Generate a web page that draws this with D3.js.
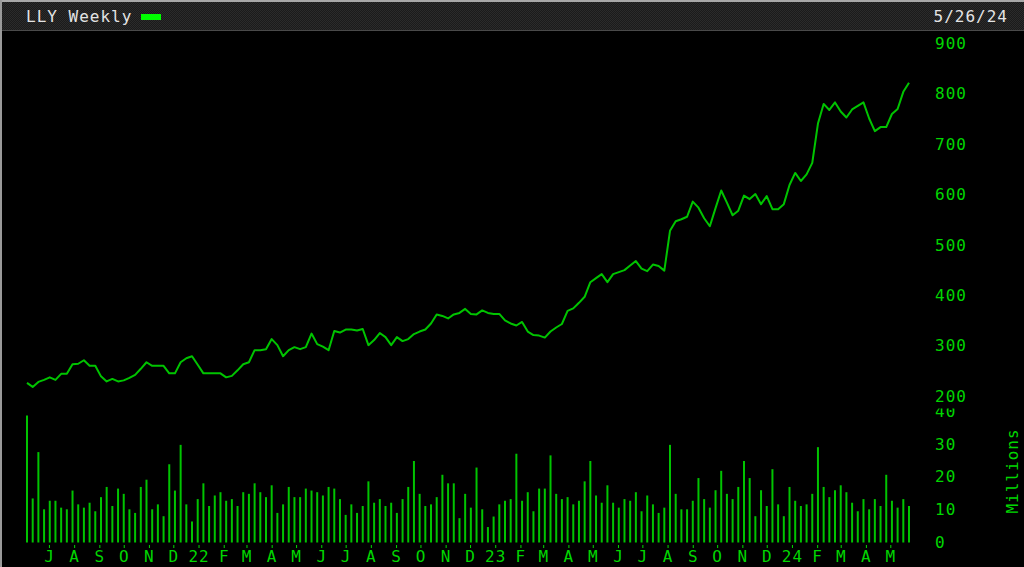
<!DOCTYPE html>
<html>
<head>
<meta charset="utf-8">
<script src="https://cdn.jsdelivr.net/npm/d3@7"></script>
<style>
  html, body { margin: 0; padding: 0; background: #000; }
  svg { display: block; }
  text { font-family: "DejaVu Sans Mono", monospace; font-size: 16px; letter-spacing: 1px; }
</style>
</head>
<body>
<script>
const width = 1024;
const height = 567;

// weekly closes, first week ending 2021-06-04
const firstWeek = new Date(Date.UTC(2021, 5, 4));
const closes = [
  226, 218, 228, 232, 237, 232, 244, 244, 263, 264,
  271, 260, 260, 239, 229, 234, 229, 231, 236, 242,
  254, 267, 260, 260, 260, 245, 245, 267, 275, 279,
  262, 245, 245, 245, 245, 237, 240, 251, 263, 267,
  291, 291, 293, 313, 301, 279, 291, 297, 293, 297,
  324, 303, 298, 291, 329, 326, 332, 332, 330, 333,
  301, 311, 325, 317, 301, 317, 309, 313, 323, 328,
  332, 344, 362, 359, 354, 362, 365, 373, 363, 362,
  370, 365, 363, 363, 350, 344, 340, 347, 328, 321,
  320, 316, 328, 336, 343, 369, 374, 385, 397, 426,
  434, 442, 426, 442, 446, 450, 459, 468, 453, 448,
  461, 458, 449, 528, 547, 551, 556, 586, 574, 553,
  537, 573, 608, 584, 559, 568, 598, 591, 601, 581,
  597, 571, 571, 581, 619, 643, 627, 640, 663, 741,
  780, 768, 783, 765, 753, 769, 776, 783, 751, 726,
  734, 734, 760, 770, 804, 822
];
// weekly volume, millions
const volumes = [
  38.6, 13.4, 27.5, 10.1, 12.7, 12.7, 10.6, 10.1, 15.8, 11.6,
  10.6, 12.1, 9.5, 13.8, 16.9, 11.1, 16.4, 14.8, 10.1, 9.0,
  16.9, 19.1, 10.1, 11.6, 8.0, 23.8, 15.8, 29.7, 11.6, 6.4,
  13.2, 18.0, 11.1, 14.3, 15.3, 12.7, 13.2, 11.1, 15.3, 14.8,
  18.0, 15.3, 13.8, 17.4, 9.0, 11.6, 16.9, 13.8, 13.8, 16.4,
  15.8, 15.3, 14.3, 16.9, 16.4, 13.2, 8.4, 11.6, 9.0, 11.1,
  18.6, 12.1, 13.2, 11.1, 12.1, 9.0, 13.2, 16.9, 24.8, 14.8,
  11.1, 11.6, 13.8, 20.6, 18.0, 18.0, 7.4, 14.8, 10.6, 22.8,
  10.1, 4.7, 7.9, 11.6, 12.7, 13.2, 27.0, 12.7, 15.3, 9.5,
  16.4, 16.4, 26.5, 14.8, 13.2, 13.8, 11.6, 12.7, 18.6, 24.8,
  14.3, 12.1, 17.4, 12.1, 10.6, 13.2, 12.7, 15.3, 9.5, 14.3,
  11.6, 9.0, 10.6, 29.7, 14.8, 10.1, 10.1, 12.7, 19.6, 13.2,
  10.6, 15.9, 21.8, 14.8, 13.2, 16.9, 24.8, 19.6, 8.0, 15.9,
  11.1, 22.3, 11.6, 8.0, 16.9, 12.7, 11.1, 11.6, 14.8, 29.0,
  16.9, 13.8, 15.9, 17.4, 15.3, 12.1, 9.5, 13.2, 10.1, 13.2,
  11.1, 20.6, 12.7, 10.6, 13.2, 11.1
];
const monthLabels = [
  'J', 'A', 'S', 'O', 'N', 'D',
  '22', 'F', 'M', 'A', 'M', 'J', 'J', 'A', 'S', 'O', 'N', 'D',
  '23', 'F', 'M', 'A', 'M', 'J', 'J', 'A', 'S', 'O', 'N', 'D',
  '24', 'F', 'M', 'A', 'M'
];
const priceTicks = [200, 300, 400, 500, 600, 700, 800, 900];
const volumeTicks = [0, 10, 20, 30, 40];

const green = '#00c400';
const labelGreen = '#00d600';

const weeks = d3.utcFriday.range(firstWeek, d3.utcFriday.offset(firstWeek, closes.length));
const data = weeks.map((d, i) => ({ date: d, close: closes[i], volume: volumes[i] }));

const x = d3.scaleUtc()
  .domain([weeks[0], weeks[weeks.length - 1]])
  .range([27, 909]);
const yPrice = d3.scaleLinear().domain([200, 900]).range([396, 43.5]);
const yVol = d3.scaleLinear().domain([0, 40]).range([542.5, 411]);

const svg = d3.select('body')
  .append('svg')
  .attr('width', width)
  .attr('height', height);

// dithered header pattern
const defs = svg.append('defs');
const pat = defs.append('pattern')
  .attr('id', 'dither')
  .attr('width', 2).attr('height', 2)
  .attr('patternUnits', 'userSpaceOnUse');
pat.append('rect').attr('width', 2).attr('height', 2).attr('fill', '#1b1b1b');
pat.append('rect').attr('width', 1).attr('height', 1).attr('fill', '#2b2b2b');
pat.append('rect').attr('x', 1).attr('y', 1).attr('width', 1).attr('height', 1).attr('fill', '#2b2b2b');

svg.append('rect').attr('width', width).attr('height', height).attr('fill', '#000');

// header
svg.append('rect').attr('x', 0).attr('y', 0).attr('width', width).attr('height', 31).attr('fill', 'url(#dither)');
svg.append('rect').attr('x', 0).attr('y', 30).attr('width', width).attr('height', 1).attr('fill', '#4a4a4a');
svg.append('rect').attr('x', 0).attr('y', 0).attr('width', width).attr('height', 2).attr('fill', '#a8a8a8');
svg.append('rect').attr('x', 0).attr('y', 0).attr('width', 2).attr('height', height).attr('fill', '#9a9a9a');

svg.append('text')
  .attr('x', 26).attr('y', 22)
  .attr('fill', '#e4e4e4')
  .text('LLY Weekly');
svg.append('rect')
  .attr('x', 141).attr('y', 14).attr('width', 20).attr('height', 6)
  .attr('fill', '#00ff00');
svg.append('text')
  .attr('x', 1008).attr('y', 22)
  .attr('text-anchor', 'end')
  .attr('fill', '#e4e4e4')
  .text('5/26/24');

// volume bars
svg.append('g')
  .selectAll('line')
  .data(data)
  .join('line')
  .attr('x1', d => x(d.date))
  .attr('x2', d => x(d.date))
  .attr('y1', yVol(0))
  .attr('y2', d => yVol(d.volume))
  .attr('stroke', green)
  .attr('stroke-width', 2);

// price line
const line = d3.line()
  .x(d => x(d.date))
  .y(d => yPrice(d.close));

svg.append('path')
  .datum(data)
  .attr('d', line)
  .attr('fill', 'none')
  .attr('stroke', green)
  .attr('stroke-width', 2)
  .attr('stroke-linejoin', 'round');

function styleAxis(g) {
  g.select('.domain').remove();
  g.selectAll('text').attr('fill', labelGreen).attr('font-family', null).attr('font-size', null);
  g.selectAll('line').attr('stroke', labelGreen);
}

// volume axis (drawn first so the 200 label sits on top)
svg.append('g')
  .attr('transform', 'translate(927,0)')
  .call(d3.axisRight(yVol).tickValues(volumeTicks).tickSize(0).tickPadding(8))
  .call(styleAxis);

// price axis
const priceAxis = svg.append('g')
  .attr('transform', 'translate(927,0)')
  .call(d3.axisRight(yPrice).tickValues(priceTicks).tickSize(0).tickPadding(8))
  .call(styleAxis);
priceAxis.selectAll('.tick')
  .insert('rect', 'text')
  .attr('x', 6).attr('y', -9).attr('width', 40).attr('height', 21)
  .attr('fill', '#000');

// month axis
const monthTicks = d3.utcMonth.range(new Date(Date.UTC(2021, 6, 1)), new Date(Date.UTC(2024, 5, 1)));
svg.append('g')
  .attr('transform', 'translate(0,545)')
  .call(d3.axisBottom(x)
    .tickValues(monthTicks)
    .tickFormat((d, i) => monthLabels[i])
    .tickSize(3)
    .tickPadding(3))
  .call(styleAxis)
  .selectAll('text')
  .attr('dy', '0.71em');

svg.append('text')
  .attr('transform', 'translate(1018,471) rotate(-90)')
  .attr('text-anchor', 'middle')
  .attr('fill', labelGreen)
  .text('Millions');
</script>
</body>
</html>
